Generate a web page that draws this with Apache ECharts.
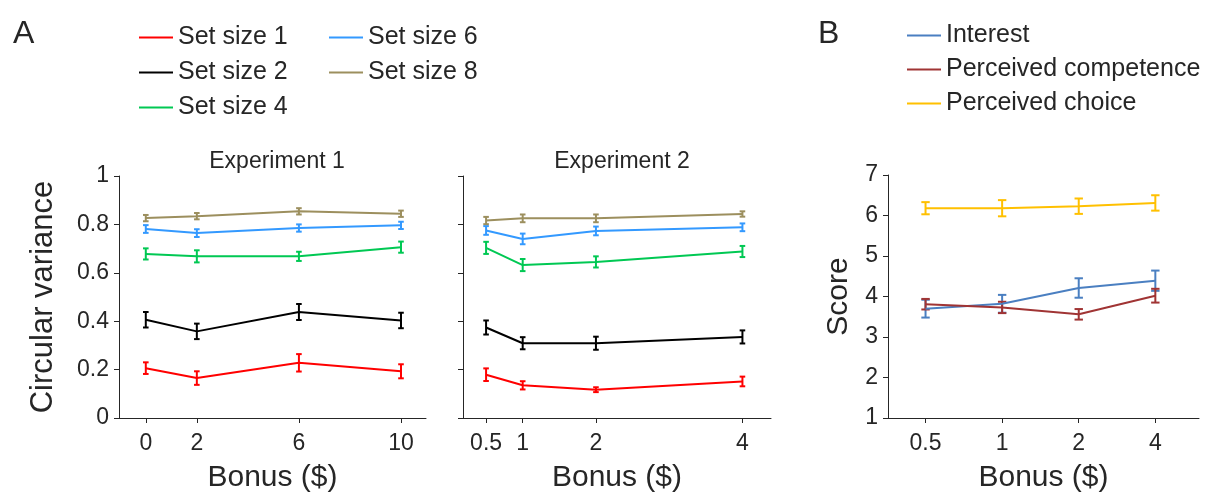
<!DOCTYPE html>
<html>
<head>
<meta charset="utf-8">
<script src="https://cdn.jsdelivr.net/npm/echarts@6/dist/echarts.min.js"></script>
<style>
  html, body { margin: 0; padding: 0; background: #fff; }
  #chart { width: 1220px; height: 494px; }
</style>
</head>
<body>
<div id="chart"></div>
<script>
// x values (bonus, $)
const bonus1 = [0, 2, 6, 10];
const bonus2 = [0.5, 1, 2, 4];
const bonusB = ['0.5', '1', '2', '4'];

// panel A
const setNames = ['Set size 1', 'Set size 2', 'Set size 4', 'Set size 6', 'Set size 8'];
const setColors = ['#ff0000', '#000000', '#00c853', '#3399ff', '#9c8f5e'];

// one row per set size, one value per bonus level
const exp1Mean = [
  [0.206, 0.165, 0.228, 0.193],
  [0.406, 0.358, 0.438, 0.403],
  [0.678, 0.668, 0.668, 0.706],
  [0.781, 0.764, 0.785, 0.796],
  [0.826, 0.834, 0.854, 0.844]
];
const exp1Err = [
  [0.024, 0.028, 0.036, 0.029],
  [0.032, 0.032, 0.033, 0.032],
  [0.023, 0.025, 0.019, 0.023],
  [0.016, 0.016, 0.015, 0.015],
  [0.013, 0.013, 0.013, 0.013]
];
const exp2Mean = [
  [0.179, 0.135, 0.117, 0.151],
  [0.374, 0.309, 0.309, 0.335],
  [0.703, 0.632, 0.645, 0.688],
  [0.775, 0.740, 0.773, 0.788],
  [0.816, 0.825, 0.825, 0.843]
];
const exp2Err = [
  [0.026, 0.017, 0.010, 0.020],
  [0.029, 0.025, 0.027, 0.027],
  [0.025, 0.025, 0.023, 0.023],
  [0.018, 0.022, 0.018, 0.016],
  [0.015, 0.016, 0.016, 0.011]
];

// panel B
const scoreNames = ['Interest', 'Perceived competence', 'Perceived choice'];
const scoreColors = ['#4a7fc1', '#a03434', '#ffc000'];
const scoreMean = [
  [3.70, 3.82, 4.21, 4.39],
  [3.81, 3.73, 3.56, 4.02],
  [6.18, 6.18, 6.23, 6.31]
];
const scoreErr = [
  [0.22, 0.22, 0.24, 0.25],
  [0.13, 0.14, 0.13, 0.17],
  [0.15, 0.20, 0.19, 0.19]
];

const FONT = "'Liberation Sans', Arial, sans-serif";
const INK = '#262626';

// vertical error bar with caps, drawn through the axis scales
const errorBar = (capHalf, width) => (params, api) => {
  const x = api.value(0);
  const m = api.value(1);
  const e = api.value(2);
  const hi = api.coord([x, m + e]);
  const lo = api.coord([x, m - e]);
  const style = { stroke: api.visual('color'), lineWidth: width };
  return {
    type: 'group',
    children: [
      { type: 'line', shape: { x1: hi[0], y1: hi[1], x2: lo[0], y2: lo[1] }, style },
      { type: 'line', shape: { x1: hi[0] - capHalf, y1: hi[1], x2: hi[0] + capHalf, y2: hi[1] }, style },
      { type: 'line', shape: { x1: lo[0] - capHalf, y1: lo[1], x2: lo[0] + capHalf, y2: lo[1] }, style }
    ]
  };
};

const axisCommon = {
  axisLine: { show: true, onZero: false, lineStyle: { color: INK, width: 1 } },
  axisTick: { show: true, length: 5, lineStyle: { color: INK } },
  splitLine: { show: false },
  axisLabel: { color: INK, fontFamily: FONT, fontSize: 23 },
  nameTextStyle: { color: INK, fontFamily: FONT, fontSize: 30 }
};

const xAxisFor = (gridIndex, min, max, ticks, fmt) => ({
  ...axisCommon,
  gridIndex,
  type: 'value',
  min,
  max,
  name: 'Bonus ($)',
  nameLocation: 'middle',
  nameGap: 45,
  axisTick: { ...axisCommon.axisTick, customValues: ticks },
  axisLabel: { ...axisCommon.axisLabel, margin: 14, customValues: ticks, formatter: fmt }
});

const series = [];
const addGroup = (names, colors, xs, means, errs, xIdx, lineW, capHalf) => {
  names.forEach((name, i) => {
    series.push({
      name,
      type: 'line',
      xAxisIndex: xIdx,
      yAxisIndex: xIdx,
      data: xs.map((x, j) => [x, means[i][j]]),
      showSymbol: false,
      symbol: 'none',
      lineStyle: { color: colors[i], width: lineW },
      itemStyle: { color: colors[i] },
      silent: true,
      z: 3
    });
    series.push({
      name: name + ' err',
      type: 'custom',
      xAxisIndex: xIdx,
      yAxisIndex: xIdx,
      data: xs.map((x, j) => [x, means[i][j], errs[i][j]]),
      itemStyle: { color: colors[i] },
      renderItem: errorBar(capHalf, lineW),
      silent: true,
      z: 3
    });
  });
};

const bIdx = bonusB.map((_, i) => i);
addGroup(setNames, setColors, bonus1, exp1Mean, exp1Err, 0, 2, 2.8);
addGroup(setNames, setColors, bonus2, exp2Mean, exp2Err, 1, 2, 2.8);
addGroup(scoreNames, scoreColors, bIdx, scoreMean, scoreErr, 2, 2, 4.2);

const legendCommon = {
  orient: 'vertical',
  icon: 'rect',
  padding: 0,
  itemWidth: 34,
  itemHeight: 2,
  itemGap: 10,
  itemTextGap: 7,
  itemStyle: { borderWidth: 0 },
  textStyle: { color: INK, fontFamily: FONT, fontSize: 25, lineHeight: 25 },
  selectedMode: false
};

const titleText = (size) => ({ color: INK, fontFamily: FONT, fontSize: size, fontWeight: 'normal' });

const chart = echarts.init(document.getElementById('chart'), null, { renderer: 'canvas' });
chart.setOption({
  animation: false,
  backgroundColor: '#fff',
  title: [
    { text: 'A', left: 8, top: 13, textStyle: titleText(32) },
    { text: 'B', left: 813, top: 13, textStyle: titleText(32) },
    { text: 'Experiment 1', left: 272, top: 145, textAlign: 'center', textStyle: titleText(23) },
    { text: 'Experiment 2', left: 617, top: 145, textAlign: 'center', textStyle: titleText(23) }
  ],
  legend: [
    { ...legendCommon, left: 139, top: 25, data: setNames.slice(0, 3) },
    { ...legendCommon, left: 329, top: 25, data: setNames.slice(3) },
    { ...legendCommon, left: 907, top: 23, itemGap: 9, itemTextGap: 12, data: scoreNames }
  ],
  grid: [
    { left: 119, top: 176, width: 307, height: 243 },
    { left: 463, top: 176, width: 308, height: 243 },
    { left: 888, top: 175, width: 311, height: 243 }
  ],
  xAxis: [
    xAxisFor(0, -1.05, 10.98, bonus1),
    xAxisFor(1, 0.185, 4.39, bonus2),
    xAxisFor(2, -0.49, 3.57, bIdx, (v) => bonusB[Math.round(v)])
  ],
  yAxis: [
    {
      ...axisCommon, gridIndex: 0, type: 'value', min: 0, max: 1, interval: 0.2,
      name: 'Circular variance', nameLocation: 'middle', nameGap: 60,
      axisLabel: { ...axisCommon.axisLabel, margin: 10 },
      nameTextStyle: { ...axisCommon.nameTextStyle, fontSize: 31 }
    },
    {
      ...axisCommon, gridIndex: 1, type: 'value', min: 0, max: 1, interval: 0.2,
      axisLabel: { show: false }
    },
    {
      ...axisCommon, gridIndex: 2, type: 'value', min: 1, max: 7, interval: 1,
      name: 'Score', nameLocation: 'middle', nameGap: 34,
      axisLabel: { ...axisCommon.axisLabel, margin: 10 },
      nameTextStyle: { ...axisCommon.nameTextStyle, fontSize: 30 }
    }
  ],
  series
});
</script>
</body>
</html>
